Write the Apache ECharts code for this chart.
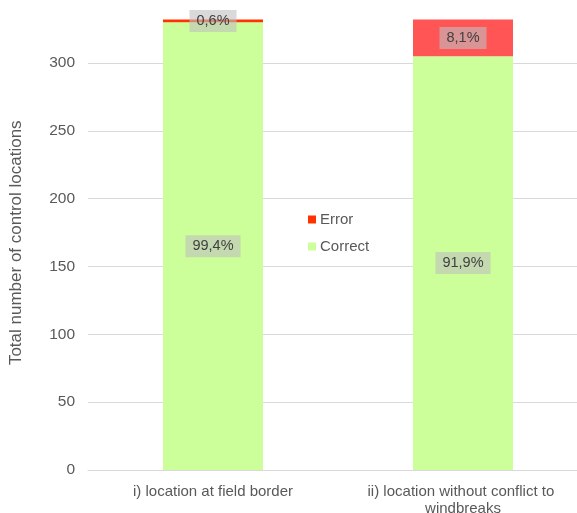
<!DOCTYPE html>
<html>
<head>
<meta charset="utf-8">
<script src="https://cdn.jsdelivr.net/npm/echarts@6/dist/echarts.min.js"></script>
<style>
  html, body { margin: 0; padding: 0; background: #fff; }
  #chart { width: 577px; height: 513px; }
</style>
</head>
<body>
<div id="chart"></div>
<script>
// Control locations by placement type
const categories = ['i) location at field border', 'ii) location without conflict to windbreaks'];
const correctValues = [330, 305];
const errorValues = [2, 27];
const yTicks = [0, 50, 100, 150, 200, 250, 300];

const totals = correctValues.map((v, i) => v + errorValues[i]);
const pct = (v, i) => (v / totals[i] * 100).toFixed(1).replace('.', ',') + '%';

const labelStyle = {
  show: true,
  position: 'inside',
  color: '#404040',
  fontSize: 14.5,
  fontFamily: 'Liberation Sans, Arial, sans-serif',
  backgroundColor: 'rgba(191,191,191,0.6)',
  padding: [4, 7, 3, 7]
};

const chart = echarts.init(document.getElementById('chart'), null, { renderer: 'canvas' });
chart.setOption({
  animation: false,
  textStyle: { fontFamily: 'Liberation Sans, Arial, sans-serif' },
  grid: { left: 88, top: 15.5, width: 500, bottom: 43, containLabel: false, outerBoundsMode: 'none' },
  legend: {
    data: ['Error', 'Correct'],
    orient: 'vertical',
    left: 303,
    top: 207,
    itemWidth: 8,
    itemHeight: 8,
    itemGap: 12,
    icon: 'rect',
    textStyle: { color: '#595959', fontSize: 15, padding: [0, 0, 0, -1] }
  },
  xAxis: {
    type: 'category',
    data: categories,
    axisLine: { lineStyle: { color: '#d9d9d9', width: 1 } },
    axisTick: { show: false },
    axisLabel: {
      interval: 0,
      color: '#595959',
      fontSize: 15,
      margin: 13,
      width: 215,
      overflow: 'break',
      lineHeight: 17
    }
  },
  yAxis: {
    type: 'value',
    min: yTicks[0],
    max: 335,
    interval: yTicks[1] - yTicks[0],
    name: 'Total number of control locations',
    nameLocation: 'middle',
    nameGap: 63,
    nameTextStyle: { color: '#595959', fontSize: 17 },
    axisLine: { show: false },
    axisTick: { show: false },
    axisLabel: {
      color: '#595959',
      fontSize: 15.5,
      margin: 13,
      showMaxLabel: false,
      formatter: v => (yTicks.includes(v) ? String(v) : '')
    },
    splitLine: { show: true, showMaxLine: false, lineStyle: { color: '#d9d9d9', width: 1 } }
  },
  series: [
    {
      name: 'Correct',
      type: 'bar',
      stack: 'total',
      barWidth: 100,
      data: correctValues,
      itemStyle: { color: '#ccff99' },
      label: Object.assign({}, labelStyle, { formatter: p => pct(p.value, p.dataIndex) })
    },
    {
      name: 'Error',
      type: 'bar',
      stack: 'total',
      barWidth: 100,
      data: errorValues.map((v, i) => ({
        value: v,
        itemStyle: { color: i === 0 ? '#ff3300' : '#ff5555' }
      })),
      itemStyle: { color: '#ff3300' },
      label: Object.assign({}, labelStyle, { formatter: p => pct(p.value, p.dataIndex) })
    }
  ]
});
</script>
</body>
</html>
